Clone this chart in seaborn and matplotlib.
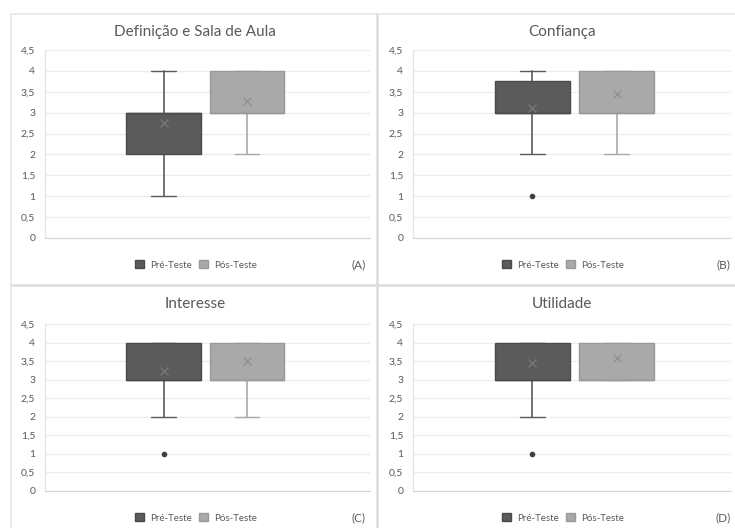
import matplotlib
matplotlib.use("Agg")
import matplotlib.pyplot as plt
from matplotlib.patches import Patch
from matplotlib.lines import Line2D
import seaborn as sns

# chart data
titles = ["Definição e Sala de Aula", "Confiança", "Interesse", "Utilidade"]
letters = ["(A)", "(B)", "(C)", "(D)"]
groups = ["Pré-Teste", "Pós-Teste"]
yticks = [0, 0.5, 1, 1.5, 2, 2.5, 3, 3.5, 4, 4.5]
ylabels = ["0", "0,5", "1", "1,5", "2", "2,5", "3", "3,5", "4", "4,5"]

pre_low = [1, 2, 2, 2]
pre_q1 = [2, 3, 3, 3]
pre_med = [3, 3, 3, 3]
pre_q3 = [3, 3.75, 4, 4]
pre_high = [4, 4, 4, 4]
pre_mean = [2.75, 3.11, 3.23, 3.44]
pre_out = [[], [1], [1], [1]]

post_low = [2, 2, 2, 3]
post_q1 = [3, 3, 3, 3]
post_med = [3, 3, 3, 3]
post_q3 = [4, 4, 4, 4]
post_high = [4, 4, 4, 4]
post_mean = [3.28, 3.44, 3.5, 3.58]
post_out = [[], [], [], []]

sns.set_theme(style="white")
plt.rcParams["font.family"] = ["Lato", "DejaVu Sans"]

W, H = 735, 528
fig = plt.figure(figsize=(W / 100, H / 100), dpi=100)
fig.patch.set_facecolor("white")


def fx(x):
    return x / W


def fy(y):
    return 1 - y / H


# panel frame lines
frame = "#dcdcdc"
fig.add_artist(Line2D([fx(11), fx(735)], [fy(14), fy(14)], color="#e8e8e8", lw=1.2))
fig.add_artist(Line2D([fx(11), fx(11)], [fy(14), fy(528)], color="#e8e8e8", lw=1.2))
fig.add_artist(Line2D([fx(377), fx(377)], [fy(14), fy(528)], color=frame, lw=1.8))
fig.add_artist(Line2D([fx(11), fx(735)], [fy(285), fy(285)], color=frame, lw=1.8))

# plot areas in pixels: left, right, title centre, xlim, letter x
cols = [(45, 370, 195, -1.43, 2.48, 359), (413, 731, 562, -1.42, 2.36, 723)]
rows = [(50, 238, 32, 265), (324, 491, 304, 518)]

pre_col = "#5b5b5b"
post_col = "#a9a9a9"

for i in range(4):
    left, right, tx, x0, x1, lx = cols[i % 2]
    top, bottom, ty, ly = rows[i // 2]
    ax = fig.add_axes([fx(left), fy(bottom), (right - left) / W, (bottom - top) / H])

    stats = [
        dict(whislo=pre_low[i], q1=pre_q1[i], med=pre_med[i], q3=pre_q3[i],
             whishi=pre_high[i], mean=pre_mean[i], fliers=pre_out[i]),
        dict(whislo=post_low[i], q1=post_q1[i], med=post_med[i], q3=post_q3[i],
             whishi=post_high[i], mean=post_mean[i], fliers=post_out[i]),
    ]
    parts = ax.bxp(stats, positions=[0, 1], widths=0.9, capwidths=0.3,
                   showmeans=True, patch_artist=True, manage_ticks=False)

    for j, c in enumerate([pre_col, post_col]):
        edge = "#4a4a4a" if j == 0 else "#999999"
        parts["boxes"][j].set(facecolor=c, edgecolor=edge, lw=1.0, zorder=3)
        parts["medians"][j].set(color=edge, lw=1.0, zorder=4)
        for k in (2 * j, 2 * j + 1):
            parts["whiskers"][k].set(color=c, lw=1.2, zorder=2)
            parts["caps"][k].set(color=c, lw=1.0, zorder=2)
        parts["means"][j].set(marker="x", markersize=6, markeredgewidth=0.9,
                              markeredgecolor="#7a7a7a" if j == 0 else "#8e8e8e",
                              zorder=5)
        parts["fliers"][j].set(marker="o", markersize=3, markerfacecolor="#3f3f3f",
                               markeredgecolor="#3f3f3f", zorder=5)

    ax.set_xlim(x0, x1)
    ax.set_ylim(0, 4.5)
    ax.set_yticks(yticks)
    ax.set_yticklabels(ylabels)
    ax.set_xticks([])
    ax.tick_params(axis="y", length=0, pad=7, labelsize=7.5, labelcolor="#595959")
    ax.yaxis.grid(True, color="#ececec", lw=0.9)
    ax.set_axisbelow(True)
    for s in ["top", "right"]:
        ax.spines[s].set_visible(False)
    ax.spines["left"].set_color("#e4e4e4")
    ax.spines["bottom"].set_color("#d9d9d9")
    ax.spines["left"].set_linewidth(0.9)
    ax.spines["bottom"].set_linewidth(0.9)

    fig.text(fx(tx), fy(ty), titles[i], ha="center", va="center",
             fontsize=11, color="#595959")
    fig.text(fx(lx), fy(ly), letters[i], ha="center", va="center",
             fontsize=8.5, color="#595959")

    handles = [Patch(facecolor=pre_col, edgecolor="#4a4a4a"),
               Patch(facecolor=post_col, edgecolor="#999999")]
    ax.legend(handles, groups, loc="center", ncol=2, frameon=False,
              bbox_to_anchor=(fx(tx + 1), fy(ly)), bbox_transform=fig.transFigure,
              fontsize=7, labelcolor="#595959", handlelength=0.9,
              handleheight=0.9, handletextpad=0.6, columnspacing=0.8)

fig.savefig("out.png", dpi=100)
